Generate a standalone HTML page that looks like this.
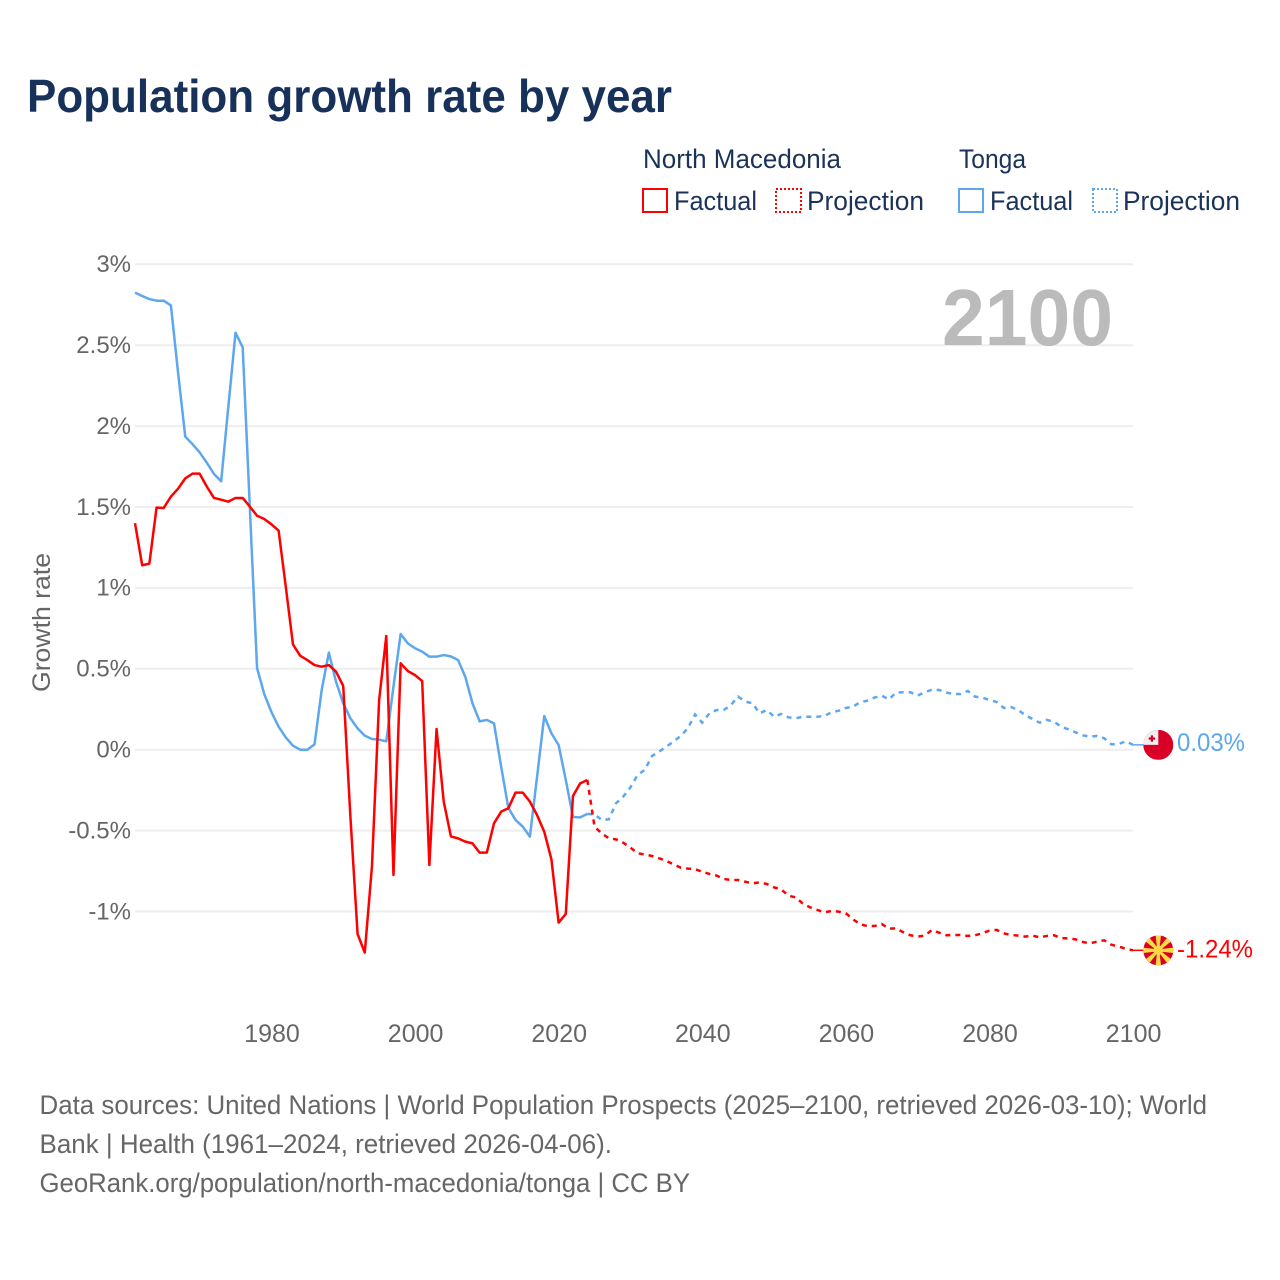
<!DOCTYPE html>
<html lang="en">
<head>
<meta charset="utf-8">
<title>Population growth rate by year</title>
<style>
  html, body { margin: 0; padding: 0; background: #fff; }
  svg { display: block; font-family: "Liberation Sans", sans-serif; }
</style>
</head>
<body>
<svg id="chart" xmlns="http://www.w3.org/2000/svg" width="1280" height="1280" viewBox="0 0 1280 1280">
  <defs>
    <clipPath id="flag-clip"><circle cx="0" cy="0" r="15"></circle></clipPath>
  </defs>
  <rect x="0" y="0" width="1280" height="1280" fill="#ffffff"></rect>

  <text x="27" y="112" font-size="46" font-weight="700" fill="#17315a" textLength="645" lengthAdjust="spacingAndGlyphs">Population growth rate by year</text>

  <g font-size="27" fill="#1b3358">
    <text x="643" y="168" textLength="198" lengthAdjust="spacingAndGlyphs">North Macedonia</text>
    <text x="959" y="168" textLength="67" lengthAdjust="spacingAndGlyphs">Tonga</text>
    <rect x="643" y="189" width="24" height="23" fill="none" stroke="#ff0000" stroke-width="2"></rect>
    <text x="674" y="210" textLength="83" lengthAdjust="spacingAndGlyphs">Factual</text>
    <rect x="776" y="189" width="25" height="23" fill="none" stroke="#ff0000" stroke-width="2" stroke-dasharray="2 2"></rect>
    <text x="807" y="210" textLength="117" lengthAdjust="spacingAndGlyphs">Projection</text>
    <rect x="959" y="189" width="24" height="23" fill="none" stroke="#5da7ee" stroke-width="2"></rect>
    <text x="990" y="210" textLength="83" lengthAdjust="spacingAndGlyphs">Factual</text>
    <rect x="1093" y="189" width="24" height="23" fill="none" stroke="#5da7ee" stroke-width="2" stroke-dasharray="2 2"></rect>
    <text x="1123" y="210" textLength="117" lengthAdjust="spacingAndGlyphs">Projection</text>
  </g>

  <g id="grid"></g>
  <g id="y-ticks" font-size="24" fill="#666666" text-anchor="end"></g>
  <g id="x-ticks" font-size="25" fill="#666666" text-anchor="middle"></g>

  <text transform="translate(50,692) rotate(-90)" font-size="25" fill="#666666" textLength="139" lengthAdjust="spacingAndGlyphs">Growth rate</text>

  <text x="942" y="345" font-size="80" font-weight="700" fill="#bbbbbb" textLength="171" lengthAdjust="spacingAndGlyphs">2100</text>

  <g id="series"></g>

  <g id="flag-tonga">
    <g clip-path="url(#flag-clip)">
      <rect x="-15" y="-15" width="30" height="30" fill="#d80027"></rect>
      <rect x="-15" y="-15" width="15" height="15" fill="#f0f0f0"></rect>
      <rect x="-7.5" y="-9.5" width="2.2" height="6.4" fill="#d80027"></rect>
      <rect x="-9.6" y="-7.4" width="6.4" height="2.2" fill="#d80027"></rect>
    </g>
  </g>
  <g id="flag-mk">
    <g clip-path="url(#flag-clip)">
      <rect x="-15" y="-15" width="30" height="30" fill="#d80027"></rect>
      <g fill="#ffda44">
        <polygon points="-1,0 1,0 2.8,-16 -2.8,-16"></polygon>
        <polygon points="-1,0 1,0 2.8,-16 -2.8,-16" transform="rotate(45)"></polygon>
        <polygon points="-1,0 1,0 2.8,-16 -2.8,-16" transform="rotate(90)"></polygon>
        <polygon points="-1,0 1,0 2.8,-16 -2.8,-16" transform="rotate(135)"></polygon>
        <polygon points="-1,0 1,0 2.8,-16 -2.8,-16" transform="rotate(180)"></polygon>
        <polygon points="-1,0 1,0 2.8,-16 -2.8,-16" transform="rotate(225)"></polygon>
        <polygon points="-1,0 1,0 2.8,-16 -2.8,-16" transform="rotate(270)"></polygon>
        <polygon points="-1,0 1,0 2.8,-16 -2.8,-16" transform="rotate(315)"></polygon>
      </g>
      <circle cx="0" cy="0" r="4.6" fill="#ffda44"></circle>
    </g>
  </g>
  <text id="label-tonga" x="1177" font-size="25" fill="#5da7ee" textLength="68" lengthAdjust="spacingAndGlyphs"></text>
  <text id="label-mk" x="1177" font-size="25" fill="#ff0000" textLength="76" lengthAdjust="spacingAndGlyphs"></text>

  <g font-size="27" fill="#666666">
    <text x="39.5" y="1114" textLength="1167.5" lengthAdjust="spacingAndGlyphs">Data sources: United Nations | World Population Prospects (2025–2100, retrieved 2026-03-10); World</text>
    <text x="39.5" y="1153" textLength="572.5" lengthAdjust="spacingAndGlyphs">Bank | Health (1961–2024, retrieved 2026-04-06).</text>
    <text x="39.5" y="1192" textLength="650.5" lengthAdjust="spacingAndGlyphs">GeoRank.org/population/north-macedonia/tonga | CC BY</text>
  </g>
</svg>
<script>
const xTickYears = [1980, 2000, 2020, 2040, 2060, 2080, 2100];
const yTickValues = [3, 2.5, 2, 1.5, 1, 0.5, 0, -0.5, -1];
const factualStartYear = 1961;
const projectionStartYear = 2024;

const mkFactual = [1.4,1.14,1.15,1.496,1.494,1.564,1.613,1.677,1.706,1.706,1.626,1.556,1.545,1.533,1.556,1.556,1.502,1.446,1.426,1.393,1.354,1.007,0.651,0.581,0.554,0.523,0.513,0.523,0.482,0.394,-0.414,-1.139,-1.254,-0.723,0.307,0.703,-0.774,0.534,0.486,0.461,0.424,-0.713,0.128,-0.321,-0.536,-0.548,-0.568,-0.579,-0.636,-0.636,-0.455,-0.383,-0.362,-0.265,-0.265,-0.321,-0.404,-0.507,-0.678,-1.069,-1.015,-0.286,-0.208,-0.187];
const mkProjection = [-0.187,-0.476,-0.517,-0.548,-0.554,-0.575,-0.605,-0.64,-0.647,-0.657,-0.671,-0.688,-0.708,-0.729,-0.735,-0.739,-0.754,-0.768,-0.778,-0.799,-0.805,-0.805,-0.816,-0.826,-0.82,-0.83,-0.851,-0.863,-0.902,-0.913,-0.95,-0.974,-0.99,-1.005,-0.997,-1.001,-1.011,-1.048,-1.079,-1.09,-1.09,-1.077,-1.106,-1.104,-1.128,-1.147,-1.155,-1.149,-1.114,-1.131,-1.147,-1.145,-1.145,-1.151,-1.147,-1.135,-1.118,-1.114,-1.135,-1.145,-1.149,-1.155,-1.149,-1.16,-1.151,-1.147,-1.164,-1.166,-1.172,-1.188,-1.197,-1.186,-1.178,-1.205,-1.217,-1.23,-1.24];
const tongaFactual = [2.825,2.804,2.785,2.775,2.775,2.746,2.33,1.935,1.889,1.838,1.774,1.704,1.659,2.12,2.577,2.487,1.49,0.505,0.344,0.233,0.142,0.076,0.025,0,0,0.033,0.369,0.6,0.42,0.287,0.194,0.132,0.087,0.066,0.062,0.052,0.39,0.715,0.657,0.627,0.606,0.575,0.575,0.585,0.577,0.554,0.451,0.287,0.175,0.184,0.163,-0.105,-0.36,-0.434,-0.475,-0.537,-0.167,0.208,0.101,0.029,-0.187,-0.416,-0.418,-0.397];
const tongaProjection = [-0.397,-0.4,-0.434,-0.43,-0.331,-0.29,-0.233,-0.156,-0.125,-0.039,-0.012,0.019,0.05,0.085,0.132,0.218,0.167,0.225,0.245,0.245,0.276,0.328,0.297,0.287,0.225,0.245,0.204,0.221,0.2,0.194,0.204,0.204,0.204,0.208,0.231,0.241,0.258,0.266,0.293,0.303,0.322,0.334,0.311,0.353,0.355,0.355,0.334,0.355,0.371,0.369,0.353,0.344,0.344,0.363,0.328,0.322,0.307,0.295,0.258,0.264,0.245,0.214,0.19,0.167,0.184,0.173,0.142,0.126,0.107,0.089,0.081,0.085,0.07,0.033,0.035,0.052,0.03];
const endLabelTonga = "0.03%";
const endLabelMacedonia = "-1.24%";

const NS = "http://www.w3.org/2000/svg";
function xScale(year) { return 135 + (year - 1961) * (998 / 139); }
function yScale(value) { return 749.7 - 161.8 * value; }
function formatTick(value) { return String(value) + "%"; }
function linePoints(values, startYear) {
  return values.map(function (v, i) {
    return xScale(startYear + i).toFixed(2) + "," + yScale(v).toFixed(2);
  }).join(" ");
}

const gridGroup = document.getElementById("grid");
const yTickGroup = document.getElementById("y-ticks");
yTickValues.forEach(function (v) {
  const ln = document.createElementNS(NS, "line");
  
  
  ln.setAttribute("x1", xScale(1961));
  ln.setAttribute("x2", xScale(2100));
  ln.setAttribute("y1", yScale(v));
  ln.setAttribute("y2", yScale(v));
  ln.setAttribute("stroke", "#eeeeee");
  ln.setAttribute("stroke-width", "2");
  gridGroup.appendChild(ln);

  const t = document.createElementNS(NS, "text");
  
  
  t.setAttribute("x", 131);
  t.setAttribute("y", yScale(v) + 7.8);
  t.textContent = formatTick(v);
  yTickGroup.appendChild(t);
});

const xTickGroup = document.getElementById("x-ticks");
xTickYears.forEach(function (yr) {
  const t = document.createElementNS(NS, "text");
  
  
  t.setAttribute("x", xScale(yr) + 0.6);
  t.setAttribute("y", 1042);
  t.textContent = String(yr);
  xTickGroup.appendChild(t);
});

const seriesGroup = document.getElementById("series");

const lineTongaFactual = document.createElementNS(NS, "polyline");


lineTongaFactual.setAttribute("points", linePoints(tongaFactual, factualStartYear));
lineTongaFactual.setAttribute("fill", "none");
lineTongaFactual.setAttribute("stroke", "#5da7ee");
lineTongaFactual.setAttribute("stroke-width", "2.5");
lineTongaFactual.setAttribute("stroke-linejoin", "round");
seriesGroup.appendChild(lineTongaFactual);

const lineMkFactual = document.createElementNS(NS, "polyline");


lineMkFactual.setAttribute("points", linePoints(mkFactual, factualStartYear));
lineMkFactual.setAttribute("fill", "none");
lineMkFactual.setAttribute("stroke", "#ff0000");
lineMkFactual.setAttribute("stroke-width", "2.5");
lineMkFactual.setAttribute("stroke-linejoin", "round");
seriesGroup.appendChild(lineMkFactual);

const lineTongaProjection = document.createElementNS(NS, "polyline");


lineTongaProjection.setAttribute("points", linePoints(tongaProjection, projectionStartYear));
lineTongaProjection.setAttribute("fill", "none");
lineTongaProjection.setAttribute("stroke", "#5da7ee");
lineTongaProjection.setAttribute("stroke-width", "2.5");
lineTongaProjection.setAttribute("stroke-dasharray", "5 5");
seriesGroup.appendChild(lineTongaProjection);

const lineMkProjection = document.createElementNS(NS, "polyline");


lineMkProjection.setAttribute("points", linePoints(mkProjection, projectionStartYear));
lineMkProjection.setAttribute("fill", "none");
lineMkProjection.setAttribute("stroke", "#ff0000");
lineMkProjection.setAttribute("stroke-width", "2.5");
lineMkProjection.setAttribute("stroke-dasharray", "5 5");
seriesGroup.appendChild(lineMkProjection);

const tongaEndY = yScale(tongaProjection[tongaProjection.length - 1]);
const mkEndY = yScale(mkProjection[mkProjection.length - 1]);

const leaderTonga = document.createElementNS(NS, "line");


leaderTonga.setAttribute("x1", xScale(2100));
leaderTonga.setAttribute("x2", xScale(2100) + 11);
leaderTonga.setAttribute("y1", tongaEndY);
leaderTonga.setAttribute("y2", tongaEndY);
leaderTonga.setAttribute("stroke", "#5da7ee");
leaderTonga.setAttribute("stroke-width", "1.5");
seriesGroup.appendChild(leaderTonga);

const leaderMk = document.createElementNS(NS, "line");


leaderMk.setAttribute("x1", xScale(2100));
leaderMk.setAttribute("x2", xScale(2100) + 11);
leaderMk.setAttribute("y1", mkEndY);
leaderMk.setAttribute("y2", mkEndY);
leaderMk.setAttribute("stroke", "#ff0000");
leaderMk.setAttribute("stroke-width", "1.5");
seriesGroup.appendChild(leaderMk);

document.getElementById("flag-tonga").setAttribute("transform", "translate(1158.3," + tongaEndY + ")");
document.getElementById("flag-mk").setAttribute("transform", "translate(1158.3," + mkEndY + ")");

const labelTonga = document.getElementById("label-tonga");
labelTonga.setAttribute("y", tongaEndY + 6);
labelTonga.textContent = endLabelTonga;

const labelMk = document.getElementById("label-mk");
labelMk.setAttribute("y", mkEndY + 7);
labelMk.textContent = endLabelMacedonia;
</script>
</body>
</html>
